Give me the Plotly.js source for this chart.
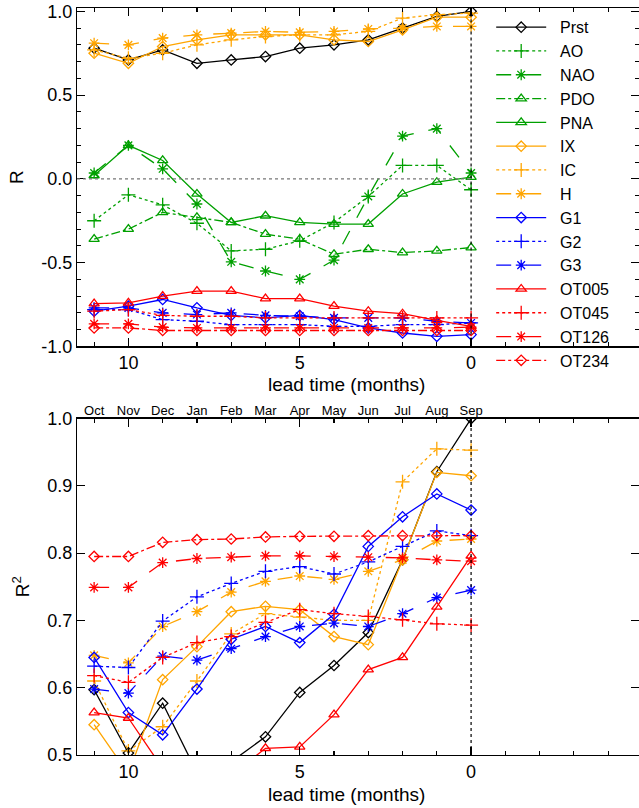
<!DOCTYPE html>
<html>
<head>
<meta charset="utf-8">
<script src="https://cdn.plot.ly/plotly-3.0.1.min.js"></script>
<style>html,body{margin:0;padding:0;background:#fff;}#chart{width:639px;height:808px;}</style>
</head>
<body>
<div id="chart"></div>
<script>
// lead time (months) and month labels
const lead = [11, 10, 9, 8, 7, 6, 5, 4, 3, 2, 1, 0];
const months = ['Oct','Nov','Dec','Jan','Feb','Mar','Apr','May','Jun','Jul','Aug','Sep'];

// Top panel: R
const R_Prst  = [0.78, 0.71, 0.77, 0.69, 0.71, 0.73, 0.78, 0.80, 0.83, 0.90, 0.97, 1.00];
const R_AO    = [-0.25, -0.095, -0.155, -0.265, -0.43, -0.42, -0.37, -0.26, -0.105, 0.08, 0.08, -0.065];
const R_NAO   = [0.035, 0.20, 0.06, -0.15, -0.495, -0.55, -0.60, -0.485, -0.105, 0.255, 0.30, 0.035];
const R_PDO   = [-0.36, -0.30, -0.20, -0.23, -0.26, -0.33, -0.36, -0.45, -0.42, -0.44, -0.43, -0.41];
const R_PNA   = [0.02, 0.20, 0.11, -0.09, -0.26, -0.22, -0.26, -0.27, -0.27, -0.09, -0.02, 0.01];
const R_IX    = [0.75, 0.69, 0.79, 0.83, 0.86, 0.86, 0.86, 0.83, 0.82, 0.89, 0.965, 0.965];
const R_IC    = [0.77, 0.72, 0.75, 0.80, 0.83, 0.85, 0.86, 0.86, 0.88, 0.96, 0.98, 0.99];
const R_H     = [0.81, 0.80, 0.84, 0.86, 0.87, 0.88, 0.875, 0.88, 0.895, 0.90, 0.91, 0.91];
const R_G1    = [-0.79, -0.76, -0.72, -0.77, -0.815, -0.83, -0.815, -0.84, -0.89, -0.92, -0.94, -0.93];
const R_G2    = [-0.78, -0.78, -0.84, -0.85, -0.87, -0.87, -0.87, -0.88, -0.88, -0.87, -0.87, -0.86];
const R_G3    = [-0.77, -0.77, -0.80, -0.81, -0.80, -0.815, -0.82, -0.83, -0.83, -0.83, -0.85, -0.86];
const R_OT005 = [-0.745, -0.74, -0.70, -0.67, -0.67, -0.715, -0.715, -0.76, -0.79, -0.805, -0.845, -0.88];
const R_OT045 = [-0.79, -0.78, -0.815, -0.82, -0.82, -0.83, -0.83, -0.83, -0.83, -0.83, -0.83, -0.83];
const R_OT126 = [-0.865, -0.865, -0.885, -0.89, -0.89, -0.89, -0.89, -0.89, -0.89, -0.89, -0.89, -0.885];
const R_OT234 = [-0.89, -0.89, -0.905, -0.905, -0.905, -0.905, -0.905, -0.905, -0.905, -0.905, -0.905, -0.905];

// Bottom panel: R^2
const R2_Prst  = [0.597, 0.503, 0.577, 0.474, 0.49, 0.527, 0.593, 0.633, 0.682, 0.79, 0.921, 1.0];
const R2_IX    = [0.545, 0.472, 0.612, 0.661, 0.713, 0.721, 0.716, 0.676, 0.664, 0.79, 0.92, 0.915];
const R2_IC    = [0.61, 0.506, 0.542, 0.61, 0.68, 0.71, 0.705, 0.70, 0.70, 0.906, 0.955, 0.953];
const R2_H     = [0.648, 0.637, 0.691, 0.713, 0.742, 0.758, 0.766, 0.761, 0.773, 0.79, 0.818, 0.821];
const R2_G1    = [0.645, 0.563, 0.53, 0.598, 0.672, 0.691, 0.667, 0.709, 0.81, 0.854, 0.888, 0.864];
const R2_G2    = [0.632, 0.63, 0.699, 0.735, 0.755, 0.773, 0.78, 0.769, 0.787, 0.81, 0.833, 0.826];
const R2_G3    = [0.598, 0.592, 0.647, 0.641, 0.658, 0.676, 0.691, 0.696, 0.691, 0.71, 0.734, 0.745];
const R2_OT005 = [0.563, 0.555, 0.48, 0.45, 0.47, 0.51, 0.512, 0.56, 0.627, 0.645, 0.72, 0.796];
const R2_OT045 = [0.618, 0.608, 0.645, 0.667, 0.676, 0.697, 0.716, 0.71, 0.706, 0.701, 0.695, 0.693];
const R2_OT126 = [0.749, 0.749, 0.786, 0.792, 0.794, 0.796, 0.796, 0.795, 0.794, 0.793, 0.79, 0.788];
const R2_OT234 = [0.795, 0.795, 0.816, 0.82, 0.821, 0.824, 0.825, 0.825, 0.826, 0.826, 0.826, 0.826];

const BLK = '#000000', GRN = '#00a000', ORG = '#ffa500', BLU = '#0000ff', RED = '#ff0000';
const SYM = {dia: 'diamond-open', plus: 'cross-thin-open', ast: 'asterisk-open', tri: 'triangle-up-open'};
const SZ = {dia: 8, plus: 10, ast: 9, tri: 9};

const series = [
  {name: 'Prst',  r: R_Prst,  r2: R2_Prst,  c: BLK, s: 'dia',  d: 'solid'},
  {name: 'AO',    r: R_AO,    r2: null,     c: GRN, s: 'plus', d: 'dot'},
  {name: 'NAO',   r: R_NAO,   r2: null,     c: GRN, s: 'ast',  d: 'longdash'},
  {name: 'PDO',   r: R_PDO,   r2: null,     c: GRN, s: 'tri',  d: 'dashdot'},
  {name: 'PNA',   r: R_PNA,   r2: null,     c: GRN, s: 'tri',  d: 'solid'},
  {name: 'IX',    r: R_IX,    r2: R2_IX,    c: ORG, s: 'dia',  d: 'solid'},
  {name: 'IC',    r: R_IC,    r2: R2_IC,    c: ORG, s: 'plus', d: 'dot'},
  {name: 'H',     r: R_H,     r2: R2_H,     c: ORG, s: 'ast',  d: 'longdash'},
  {name: 'G1',    r: R_G1,    r2: R2_G1,    c: BLU, s: 'dia',  d: 'solid'},
  {name: 'G2',    r: R_G2,    r2: R2_G2,    c: BLU, s: 'plus', d: 'dot'},
  {name: 'G3',    r: R_G3,    r2: R2_G3,    c: BLU, s: 'ast',  d: 'longdash'},
  {name: 'OT005', r: R_OT005, r2: R2_OT005, c: RED, s: 'tri',  d: 'solid'},
  {name: 'OT045', r: R_OT045, r2: R2_OT045, c: RED, s: 'plus', d: 'dot'},
  {name: 'OT126', r: R_OT126, r2: R2_OT126, c: RED, s: 'ast',  d: 'longdash'},
  {name: 'OT234', r: R_OT234, r2: R2_OT234, c: RED, s: 'dia',  d: 'dashdot'}
];

const traces = [];
series.forEach(function (sr) {
  traces.push({
    type: 'scatter', mode: 'lines+markers', x: lead, y: sr.r,
    name: '\u00a0\u00a0' + sr.name, xaxis: 'x', yaxis: 'y', showlegend: true, legendgroup: sr.name,
    line: {color: sr.c, width: 1.3, dash: sr.d},
    marker: {symbol: SYM[sr.s], size: SZ[sr.s], color: sr.c, line: {color: sr.c, width: 1.3}}
  });
});
series.forEach(function (sr) {
  if (!sr.r2) return;
  traces.push({
    type: 'scatter', mode: 'lines+markers', x: lead, y: sr.r2, name: sr.name,
    xaxis: 'x2', yaxis: 'y2', showlegend: false, legendgroup: sr.name,
    line: {color: sr.c, width: 1.3, dash: sr.d},
    marker: {symbol: SYM[sr.s], size: SZ[sr.s], color: sr.c, line: {color: sr.c, width: 1.3}}
  });
});
// invisible trace to activate month axis
traces.push({type: 'scatter', mode: 'markers', x: lead, y: R2_OT234, xaxis: 'x3', yaxis: 'y2',
  marker: {opacity: 0}, showlegend: false, hoverinfo: 'skip'});

const FONT = 'Liberation Sans, Arial, Helvetica, sans-serif';
const xr = [11.5, -4.9];
const axisCommon = {
  showline: true, linecolor: '#000', linewidth: 1.2, mirror: 'ticks',
  ticks: 'inside', ticklen: 8, tickcolor: '#000', tickwidth: 1.2,
  showgrid: false, zeroline: false,
  tickfont: {family: FONT, size: 18, color: '#000'}
};

const layout = {
  width: 639, height: 808,
  margin: {l: 77, r: 0, t: 8, b: 53},
  paper_bgcolor: '#fff', plot_bgcolor: '#fff',
  font: {family: FONT, color: '#000'},
  showlegend: true,
  legend: {x: 0.737, y: 0.997, xanchor: 'left', yanchor: 'top', bgcolor: 'rgba(0,0,0,0)',
    font: {family: FONT, size: 16, color: '#000'}, itemwidth: 50, tracegroupgap: 0},
  xaxis: Object.assign({}, axisCommon, {domain: [0, 1], anchor: 'y', range: xr, autorange: false,
    tickvals: [10, 5, 0], ticktext: ['10', '5', '0'],
    minor: {dtick: 1, tick0: 0, ticks: 'inside', ticklen: 4, tickcolor: '#000', tickwidth: 1.2, showgrid: false}}),
  yaxis: Object.assign({}, axisCommon, {domain: [0.547, 1], anchor: 'x', range: [-1, 1.02], autorange: false,
    tickvals: [-1, -0.5, 0, 0.5, 1], ticktext: ['-1.0', '-0.5', '0.0', '0.5', '1.0'],
    minor: {dtick: 0.1, ticks: 'inside', ticklen: 4, tickcolor: '#000', tickwidth: 1.2, showgrid: false},
    title: {text: 'R', font: {family: FONT, size: 19}, standoff: 12}}),
  xaxis2: Object.assign({}, axisCommon, {domain: [0, 1], anchor: 'y2', range: xr, autorange: false,
    tickvals: [10, 5, 0], ticktext: ['10', '5', '0'],
    minor: {dtick: 1, tick0: 0, ticks: 'inside', ticklen: 4, tickcolor: '#000', tickwidth: 1.2, showgrid: false}}),
  xaxis3: {overlaying: 'x2', anchor: 'y2', side: 'top', range: xr, autorange: false,
    tickvals: lead, ticktext: months, ticks: '', showline: false, showgrid: false, zeroline: false,
    tickfont: {family: FONT, size: 13, color: '#000'}},
  yaxis2: Object.assign({}, axisCommon, {domain: [0, 0.4504], anchor: 'x2', range: [0.5, 1.0], autorange: false,
    tickvals: [0.5, 0.6, 0.7, 0.8, 0.9, 1.0], ticktext: ['0.5', '0.6', '0.7', '0.8', '0.9', '1.0'],
    title: {text: 'R<sup>2</sup>', font: {family: FONT, size: 19}, standoff: 12}}),
  shapes: [
    {type: 'line', xref: 'x', yref: 'y', x0: 11.5, x1: 0, y0: 0, y1: 0, line: {color: '#777', width: 1.2, dash: 'dot'}},
    {type: 'line', xref: 'x', yref: 'y', x0: 0, x1: 0, y0: -1, y1: 1.02, line: {color: '#000', width: 1.2, dash: '3px,3px'}},
    {type: 'line', xref: 'x2', yref: 'y2', x0: 0, x1: 0, y0: 0.5, y1: 1, line: {color: '#000', width: 1.2, dash: '3px,3px'}}
  ],
  annotations: [
    {xref: 'paper', yref: 'paper', x: 0.479, y: 0.547, yshift: -26, xanchor: 'center', yanchor: 'top',
      text: 'lead time (months)', showarrow: false, font: {family: FONT, size: 19}},
    {xref: 'paper', yref: 'paper', x: 0.479, y: 0, yshift: -27, xanchor: 'center', yanchor: 'top',
      text: 'lead time (months)', showarrow: false, font: {family: FONT, size: 19}}
  ]
};

Plotly.newPlot('chart', traces, layout, {displayModeBar: false, staticPlot: true});
</script>
</body>
</html>
